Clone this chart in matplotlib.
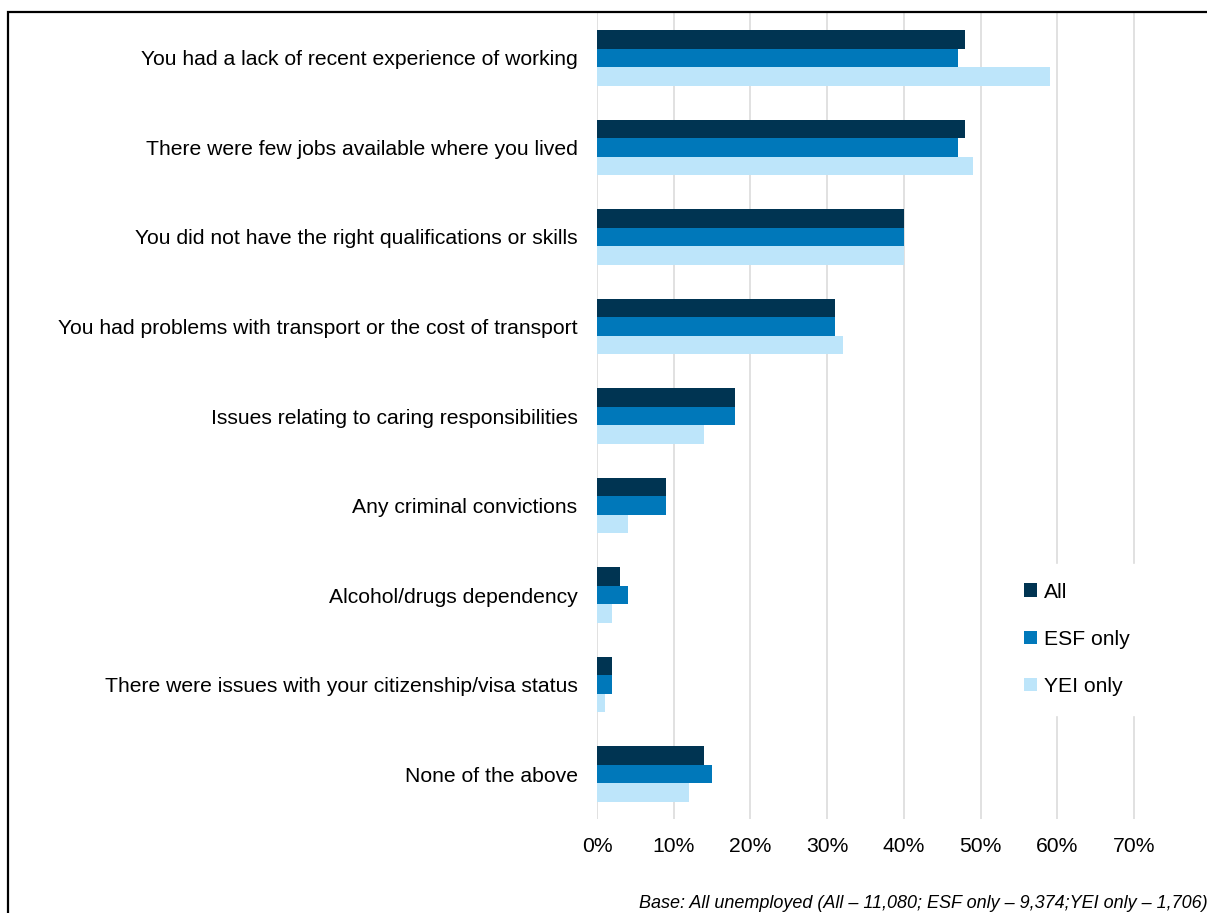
import numpy as np
import matplotlib.pyplot as plt
from matplotlib.patches import Rectangle

plt.rcParams['font.family'] = ['Liberation Sans', 'DejaVu Sans']

# Reasons for not finding work, share of unemployed respondents (%)
categories = [
    "You had a lack of recent experience of working",
    "There were few jobs available where you lived",
    "You did not have the right qualifications or skills",
    "You had problems with transport or the cost of transport",
    "Issues relating to caring responsibilities",
    "Any criminal convictions",
    "Alcohol/drugs dependency",
    "There were issues with your citizenship/visa status",
    "None of the above",
]
all_vals = [48, 48, 40, 31, 18, 9, 3, 2, 14]
esf_vals = [47, 47, 40, 31, 18, 9, 4, 2, 15]
yei_vals = [59, 49, 40, 32, 14, 4, 2, 1, 12]
series_names = ["All", "ESF only", "YEI only"]
colors = ["#003452", "#0078BA", "#BDE5FA"]
xticks = [0, 10, 20, 30, 40, 50, 60, 70]

fig = plt.figure(figsize=(12.07, 9.13), dpi=100)
ax = fig.add_axes([597 / 1207, 1 - 819 / 913, 1 - 597 / 1207, (819 - 13) / 913])

y = np.arange(len(categories))
h = 0.207
for i, (vals, name, c) in enumerate(zip([all_vals, esf_vals, yei_vals], series_names, colors)):
    ax.barh(y + (i - 1) * h, vals, height=h, color=c, label=name, zorder=3)

ax.set_ylim(len(categories) - 0.5, -0.5)
ax.set_xlim(0, 79.5)
ax.set_xticks(xticks)
ax.set_xticklabels([f"{t}%" for t in xticks], fontsize=15.2)
ax.set_yticks(y)
ax.set_yticklabels(categories, fontsize=15.2)
ax.tick_params(axis='both', length=0)
ax.tick_params(axis='y', pad=14)
ax.tick_params(axis='x', pad=13)
ax.grid(axis='x', color='#dedede', linewidth=1.3, zorder=0)
for s in ax.spines.values():
    s.set_visible(False)

leg = ax.legend(loc='upper left', bbox_to_anchor=(0.652, 0.33), frameon=True,
                fontsize=15.2, handlelength=0.6, handleheight=0.6,
                handletextpad=0.35, labelspacing=1.33, borderpad=0.9)
leg.get_frame().set_edgecolor('white')
leg.get_frame().set_facecolor('white')
leg.get_frame().set_alpha(1)

# outer frame
fig.patches.append(Rectangle((8 / 1207, -0.1), 1.2, 1 - 12 / 913 + 0.1,
                             transform=fig.transFigure, fill=False,
                             edgecolor='black', linewidth=1.6))

fig.text(1208 / 1207, 1 - 903 / 913, "Base: All unemployed (All \u2013 11,080; ESF only \u2013 9,374;YEI only \u2013 1,706)",
         ha='right', va='center', fontsize=13, style='italic')

fig.savefig("out.png", dpi=100)
